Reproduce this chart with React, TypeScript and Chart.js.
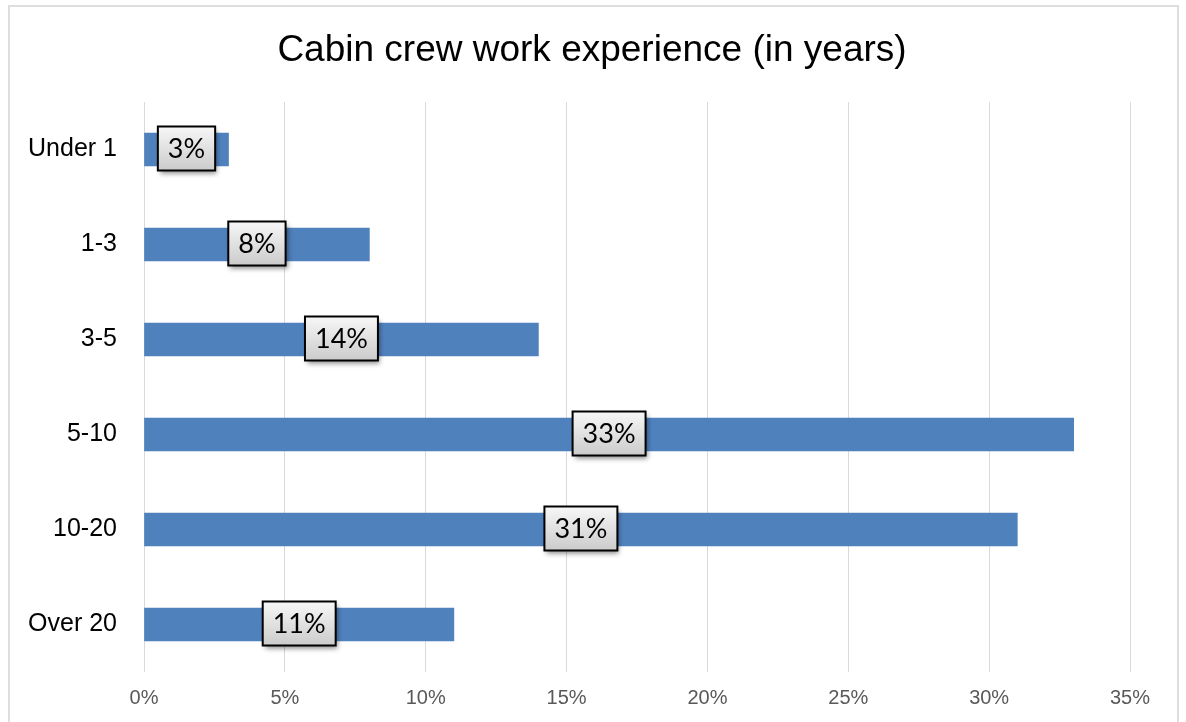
import React, { useEffect, useRef } from "react";
import { Chart, registerables } from "chart.js";

Chart.register(...registerables);

const categories = ["Under 1", "1-3", "3-5", "5-10", "10-20", "Over 20"];
const values = [3, 8, 14, 33, 31, 11];
const xTicks = [0, 5, 10, 15, 20, 25, 30, 35];
const titleText = "Cabin crew work experience (in years)";

const titlePlugin = {
  id: "customTitle",
  afterDraw(chart: any) {
    const ctx = chart.ctx;
    ctx.save();
    ctx.font = "37px Arial, 'Liberation Sans', sans-serif";
    ctx.fillStyle = "#000000";
    ctx.textAlign = "center";
    ctx.textBaseline = "alphabetic";
    ctx.fillText(titleText, 592, 61);
    ctx.restore();
  },
};

const labelBoxPlugin = {
  id: "labelBoxes",
  afterDatasetsDraw(chart: any) {
    const ctx = chart.ctx;
    const meta = chart.getDatasetMeta(0);
    const data = chart.data.datasets[0].data as number[];
    ctx.save();
    ctx.font = "27px Lato, 'Open Sans', sans-serif";
    meta.data.forEach((bar: any, i: number) => {
      const text = data[i] + "%";
      const cx = (bar.x + bar.base) / 2;
      const cy = bar.y - 1;
      const tw = ctx.measureText(text).width;
      const w = tw + 20;
      const h = 44;
      const x0 = cx - w / 2;
      const y0 = cy - h / 2;
      const grad = ctx.createLinearGradient(0, y0, 0, y0 + h);
      grad.addColorStop(0, "#f7f7f7");
      grad.addColorStop(1, "#cbcbcb");
      ctx.save();
      ctx.shadowColor = "rgba(0,0,0,0.45)";
      ctx.shadowBlur = 5;
      ctx.shadowOffsetX = 2;
      ctx.shadowOffsetY = 3;
      ctx.fillStyle = grad;
      ctx.fillRect(x0, y0, w, h);
      ctx.restore();
      ctx.lineWidth = 2;
      ctx.strokeStyle = "#000000";
      ctx.strokeRect(x0, y0, w, h);
      ctx.fillStyle = "#000000";
      ctx.textAlign = "center";
      ctx.textBaseline = "middle";
      ctx.fillText(text, cx, cy + 1);
    });
    ctx.restore();
  },
};

export default function App() {
  const ref = useRef<HTMLCanvasElement | null>(null);

  useEffect(() => {
    if (!ref.current) return;
    const chart = new Chart(ref.current, {
      type: "bar",
      data: {
        labels: categories,
        datasets: [
          {
            data: values,
            backgroundColor: "#4f81bd",
            barThickness: 33,
          },
        ],
      },
      plugins: [labelBoxPlugin, titlePlugin],
      options: {
        indexAxis: "y",
        responsive: false,
        animation: false,
        devicePixelRatio: 1,
        layout: { padding: { left: 0, right: 56, top: 102, bottom: 0 } },
        plugins: {
          legend: { display: false },
          tooltip: { enabled: false },
          title: { display: false },
        },
        scales: {
          x: {
            min: 0,
            max: 35,
            afterBuildTicks: (scale: any) => {
              scale.ticks = xTicks.map((v) => ({ value: v }));
            },
            afterFit: (scale: any) => {
              scale.height = 50;
            },
            grid: { color: "#d9d9d9", lineWidth: 1, drawTicks: false },
            border: { display: false },
            ticks: {
              color: "#595959",
              padding: 14,
              font: { family: "Arial, 'Liberation Sans', sans-serif", size: 20 },
              callback: (v: any) => v + "%",
            },
          },
          y: {
            afterFit: (scale: any) => {
              scale.width = 144;
            },
            grid: { display: false, drawTicks: false },
            border: { display: false },
            ticks: {
              color: "#000000",
              padding: 27,
              font: { family: "Arial, 'Liberation Sans', sans-serif", size: 25 },
            },
          },
        },
      },
    });
    return () => chart.destroy();
  }, []);

  return (
    <div>
      <div
        style={{
          position: "absolute",
          left: 8,
          top: 5,
          width: 1171,
          height: 717,
          boxSizing: "border-box",
          borderTop: "2px solid #dedede",
          borderLeft: "2px solid #dedede",
          borderRight: "2px solid #dedede",
        }}
      />
      <canvas
        ref={ref}
        width={1186}
        height={722}
        style={{ position: "absolute", left: 0, top: 0, display: "block", width: 1186, height: 722 }}
      />
    </div>
  );
}
